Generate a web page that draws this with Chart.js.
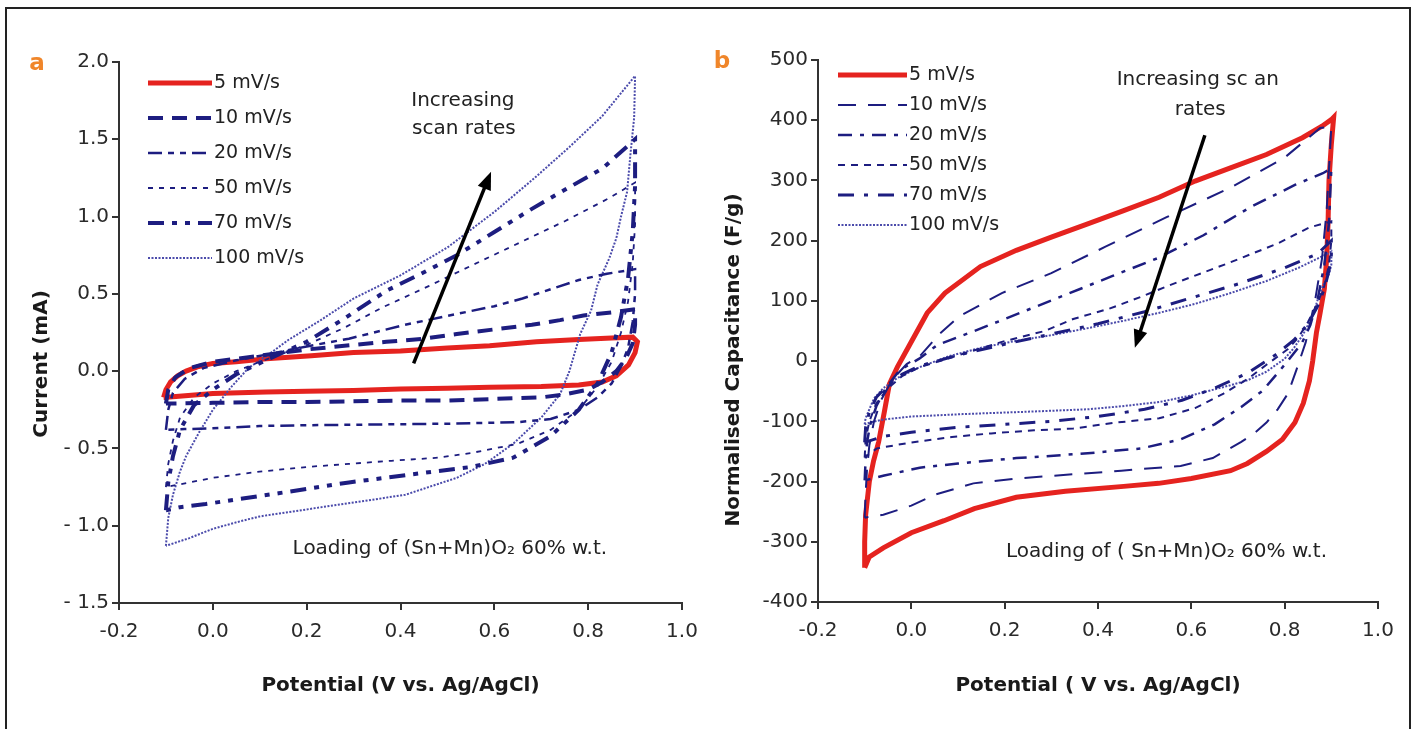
<!DOCTYPE html>
<html>
<head>
<meta charset="utf-8">
<script src="https://cdn.jsdelivr.net/npm/chart.js@4.4.0/dist/chart.umd.min.js"></script>
<style>
  body { margin: 0; background: #fff; width: 1416px; height: 729px; overflow: hidden; position: relative; }
  #frame { position: absolute; left: 5px; top: 7px; width: 1402px; height: 760px; border: 2px solid #222; }
  .panel { position: absolute; top: 0; width: 708px; height: 729px; }
  #pa { left: 0; }
  #pb { left: 708px; }
</style>
</head>
<body>
<div id="frame"></div>
<div class="panel" id="pa"><canvas id="cva"></canvas></div>
<div class="panel" id="pb"><canvas id="cvb"></canvas></div>
<script>
const rates = ['5 mV/s', '10 mV/s', '20 mV/s', '50 mV/s', '70 mV/s', '100 mV/s']

// (a) current in mA vs potential in V, one closed loop per scan rate
const curA5 = [[-0.105,-0.17],[-0.1,-0.12],[-0.09,-0.07],[-0.075,-0.03],[-0.057,0.0],[-0.03,0.03],[0,0.05],[0.05,0.06],[0.114,0.08],[0.21,0.1],[0.3,0.12],[0.4,0.13],[0.5,0.15],[0.59,0.165],[0.69,0.19],[0.78,0.205],[0.85,0.215],[0.895,0.22],[0.905,0.19],[0.9,0.12],[0.886,0.04],[0.86,-0.03],[0.83,-0.07],[0.78,-0.09],[0.7,-0.1],[0.59,-0.105],[0.5,-0.11],[0.4,-0.115],[0.3,-0.125],[0.2,-0.13],[0.114,-0.135],[0,-0.145],[-0.105,-0.17]]
const curA10 = [[-0.1,-0.21],[-0.095,-0.12],[-0.08,-0.04],[-0.05,0.02],[0,0.06],[0.1,0.1],[0.2,0.14],[0.3,0.17],[0.37,0.19],[0.45,0.21],[0.52,0.24],[0.6,0.27],[0.68,0.3],[0.74,0.33],[0.79,0.36],[0.85,0.38],[0.9,0.4],[0.9,0.3],[0.895,0.18],[0.88,0.08],[0.86,0.0],[0.83,-0.07],[0.8,-0.12],[0.75,-0.15],[0.7,-0.17],[0.6,-0.18],[0.5,-0.19],[0.4,-0.19],[0.3,-0.195],[0.2,-0.2],[0.1,-0.2],[0,-0.205],[-0.1,-0.21]]
const curA20 = [[-0.1,-0.38],[-0.095,-0.25],[-0.085,-0.14],[-0.06,-0.05],[-0.02,0.02],[0.05,0.07],[0.12,0.11],[0.2,0.16],[0.29,0.21],[0.41,0.3],[0.52,0.37],[0.6,0.42],[0.66,0.47],[0.72,0.53],[0.78,0.59],[0.84,0.63],[0.9,0.66],[0.9,0.5],[0.895,0.32],[0.885,0.15],[0.87,0.03],[0.85,-0.08],[0.82,-0.17],[0.78,-0.25],[0.72,-0.31],[0.65,-0.33],[0.5,-0.34],[0.35,-0.345],[0.2,-0.35],[0.1,-0.355],[0,-0.37],[-0.06,-0.375],[-0.1,-0.38]]
const curA50 = [[-0.1,-0.75],[-0.095,-0.6],[-0.085,-0.45],[-0.07,-0.3],[-0.04,-0.17],[0,-0.08],[0.05,0.0],[0.1,0.06],[0.2,0.17],[0.28,0.28],[0.36,0.41],[0.46,0.55],[0.57,0.71],[0.66,0.84],[0.75,0.97],[0.845,1.12],[0.9,1.22],[0.9,0.95],[0.895,0.7],[0.885,0.45],[0.87,0.25],[0.85,0.06],[0.82,-0.1],[0.78,-0.25],[0.72,-0.38],[0.65,-0.47],[0.55,-0.53],[0.48,-0.56],[0.38,-0.58],[0.29,-0.6],[0.2,-0.62],[0.1,-0.65],[0,-0.69],[-0.05,-0.72],[-0.1,-0.75]]
const curA70 = [[-0.1,-0.9],[-0.095,-0.72],[-0.085,-0.55],[-0.07,-0.38],[-0.04,-0.22],[0,-0.12],[0.05,-0.02],[0.12,0.08],[0.2,0.19],[0.28,0.34],[0.37,0.52],[0.45,0.64],[0.52,0.75],[0.6,0.9],[0.68,1.05],[0.76,1.19],[0.83,1.31],[0.9,1.5],[0.9,1.2],[0.895,0.9],[0.885,0.6],[0.87,0.35],[0.85,0.12],[0.82,-0.08],[0.78,-0.25],[0.72,-0.42],[0.64,-0.56],[0.55,-0.62],[0.445,-0.66],[0.29,-0.72],[0.14,-0.79],[0.05,-0.83],[-0.015,-0.86],[-0.07,-0.88],[-0.1,-0.9]]
const curA100 = [[-0.1,-1.13],[-0.095,-0.95],[-0.085,-0.8],[-0.07,-0.65],[-0.057,-0.55],[-0.03,-0.4],[0,-0.25],[0.04,-0.1],[0.076,0.02],[0.12,0.11],[0.16,0.2],[0.23,0.33],[0.3,0.47],[0.4,0.62],[0.5,0.8],[0.6,1.03],[0.686,1.25],[0.76,1.45],[0.83,1.65],[0.9,1.91],[0.898,1.64],[0.89,1.4],[0.883,1.16],[0.87,1.0],[0.86,0.86],[0.845,0.73],[0.82,0.56],[0.806,0.39],[0.783,0.24],[0.76,0.0],[0.74,-0.15],[0.7,-0.3],[0.64,-0.47],[0.58,-0.6],[0.52,-0.69],[0.41,-0.8],[0.3,-0.85],[0.21,-0.89],[0.1,-0.94],[0.06,-0.97],[0,-1.02],[-0.05,-1.08],[-0.1,-1.13]]

// (b) normalised capacitance in F/g vs potential in V
const capB5 = [[-0.1,-343],[-0.1,-300],[-0.098,-256],[-0.09,-200],[-0.081,-166],[-0.07,-134],[-0.058,-85],[-0.047,-38],[-0.03,-10],[-0.005,25],[0.034,80],[0.072,113],[0.148,157],[0.225,184],[0.3,206],[0.378,228],[0.455,250],[0.531,272],[0.608,299],[0.684,321],[0.761,343],[0.838,371],[0.88,390],[0.9,401],[0.905,405],[0.9,360],[0.895,300],[0.893,230],[0.89,170],[0.885,120],[0.876,80],[0.868,47],[0.86,0],[0.853,-33],[0.84,-70],[0.822,-102],[0.795,-130],[0.761,-150],[0.72,-170],[0.684,-182],[0.6,-195],[0.53,-203],[0.455,-208],[0.33,-216],[0.225,-226],[0.135,-245],[0.07,-265],[0,-285],[-0.06,-310],[-0.09,-325],[-0.1,-343]]
const capB10 = [[-0.1,-260],[-0.098,-220],[-0.095,-180],[-0.09,-140],[-0.08,-100],[-0.065,-65],[-0.04,-30],[-0.01,-5],[0.018,8],[0.06,45],[0.102,74],[0.194,113],[0.3,146],[0.416,190],[0.547,239],[0.684,288],[0.8,338],[0.876,387],[0.9,390],[0.895,320],[0.89,250],[0.88,170],[0.865,100],[0.845,31],[0.825,-15],[0.807,-54],[0.785,-80],[0.761,-102],[0.735,-120],[0.707,-134],[0.646,-161],[0.577,-174],[0.45,-182],[0.363,-187],[0.225,-195],[0.133,-203],[0.05,-222],[0,-240],[-0.06,-255],[-0.1,-260]]
const capB20 = [[-0.1,-198],[-0.098,-165],[-0.095,-135],[-0.088,-105],[-0.075,-75],[-0.055,-45],[-0.025,-15],[0.017,4],[0.056,27],[0.135,50],[0.233,80],[0.33,110],[0.43,141],[0.528,171],[0.626,209],[0.725,255],[0.823,293],[0.882,312],[0.9,320],[0.895,230],[0.885,160],[0.87,100],[0.855,60],[0.837,30],[0.8,-6],[0.753,-49],[0.707,-76],[0.65,-105],[0.577,-130],[0.493,-145],[0.378,-153],[0.286,-158],[0.225,-161],[0.1,-170],[0.018,-177],[-0.058,-190],[-0.1,-198]]
const capB50 = [[-0.1,-160],[-0.098,-130],[-0.09,-100],[-0.075,-70],[-0.05,-45],[-0.02,-25],[0.018,-10],[0.102,10],[0.194,32],[0.286,50],[0.347,70],[0.424,87],[0.493,107],[0.547,124],[0.608,142],[0.677,162],[0.784,195],[0.853,222],[0.9,232],[0.9,200],[0.895,160],[0.885,125],[0.87,95],[0.85,65],[0.83,40],[0.807,20],[0.761,-6],[0.72,-30],[0.669,-54],[0.608,-78],[0.531,-95],[0.439,-102],[0.347,-112],[0.263,-115],[0.171,-120],[0.087,-126],[0,-135],[-0.074,-145],[-0.1,-160]]
const capB70 = [[-0.1,-135],[-0.098,-110],[-0.09,-85],[-0.075,-60],[-0.05,-40],[-0.02,-22],[0.018,-8],[0.1,10],[0.2,28],[0.3,45],[0.4,62],[0.5,82],[0.6,105],[0.7,128],[0.8,155],[0.87,178],[0.9,200],[0.9,175],[0.895,150],[0.885,120],[0.87,90],[0.85,62],[0.82,35],[0.78,10],[0.72,-20],[0.65,-45],[0.58,-65],[0.5,-80],[0.4,-92],[0.3,-100],[0.2,-105],[0.1,-110],[0,-118],[-0.06,-125],[-0.1,-135]]
const capB100 = [[-0.1,-105],[-0.098,-95],[-0.09,-80],[-0.08,-62],[-0.06,-45],[-0.03,-28],[0.018,-10],[0.08,8],[0.148,22],[0.22,33],[0.3,43],[0.38,55],[0.455,67],[0.53,80],[0.608,95],[0.68,112],[0.761,133],[0.83,155],[0.891,178],[0.9,182],[0.9,160],[0.895,145],[0.885,130],[0.872,105],[0.86,75],[0.84,45],[0.82,22],[0.8,4],[0.76,-18],[0.72,-32],[0.684,-40],[0.6,-57],[0.531,-68],[0.45,-75],[0.378,-80],[0.25,-84],[0.11,-88],[0,-92],[-0.06,-97],[-0.089,-102],[-0.1,-105]]

const RED = '#e5231f'
const NAVY = '#1d1d80'
const LIGHT = '#4b4bab'

// line look per scan rate, panel a then panel b
const styleA = [
  { color: RED, width: 5, dash: [] },
  { color: NAVY, width: 4, dash: [15, 9] },
  { color: NAVY, width: 2.5, dash: [14, 6, 6, 6, 6, 6] },
  { color: NAVY, width: 1.8, dash: [5, 6] },
  { color: NAVY, width: 4, dash: [16, 8, 5, 8, 5, 8] },
  { color: LIGHT, width: 2, dash: [2, 1.5] }
]
const styleB = [
  { color: RED, width: 5, dash: [] },
  { color: NAVY, width: 2, dash: [18, 12] },
  { color: NAVY, width: 2.5, dash: [14, 8, 4, 8] },
  { color: NAVY, width: 2, dash: [7, 6] },
  { color: NAVY, width: 3, dash: [16, 10, 4, 10] },
  { color: LIGHT, width: 2, dash: [2, 1.5] }
]

const toXY = pts => pts.map(p => ({ x: p[0], y: p[1] }))

// rounding noise near zero would print "-0.0"
const fmt1 = v => (Math.abs(v) < 1e-9 ? 0 : v).toFixed(1)

const buildSets = (series, styles) => series.map((s, i) => ({
  label: rates[i],
  data: toXY(s),
  showLine: true,
  borderColor: styles[i].color,
  borderWidth: styles[i].width,
  borderDash: styles[i].dash,
  pointRadius: 0,
  tension: 0,
  fill: false,
  order: i === 0 ? 10 : i
}))

// legend, arrow, notes and the rotated y title are painted here
const decor = {
  id: 'decor',
  afterDraw(chart, args, o) {
    const { ctx, scales: { x, y } } = chart
    ctx.save()
    ctx.textBaseline = 'middle'

    chart.data.datasets.forEach((ds, i) => {
      const ly = o.legend.top + i * o.legend.gap
      ctx.beginPath()
      ctx.setLineDash(ds.borderDash)
      ctx.lineWidth = ds.borderWidth
      ctx.strokeStyle = ds.borderColor
      ctx.moveTo(o.legend.x0, ly)
      ctx.lineTo(o.legend.x1, ly)
      ctx.stroke()
      ctx.setLineDash([])
      ctx.fillStyle = '#222'
      ctx.font = '19px "DejaVu Sans"'
      ctx.textAlign = 'left'
      ctx.fillText(ds.label, o.legend.x1 + 2, ly)
    })

    // arrow
    const x1 = x.getPixelForValue(o.arrow[0][0]), y1 = y.getPixelForValue(o.arrow[0][1])
    const x2 = x.getPixelForValue(o.arrow[1][0]), y2 = y.getPixelForValue(o.arrow[1][1])
    const ang = Math.atan2(y2 - y1, x2 - x1)
    ctx.strokeStyle = '#000'
    ctx.fillStyle = '#000'
    ctx.lineWidth = 3.5
    ctx.beginPath()
    ctx.moveTo(x1, y1)
    ctx.lineTo(x2 - 12 * Math.cos(ang), y2 - 12 * Math.sin(ang))
    ctx.stroke()
    ctx.beginPath()
    ctx.moveTo(x2, y2)
    ctx.lineTo(x2 - 18 * Math.cos(ang) + 7 * Math.sin(ang), y2 - 18 * Math.sin(ang) - 7 * Math.cos(ang))
    ctx.lineTo(x2 - 18 * Math.cos(ang) - 7 * Math.sin(ang), y2 - 18 * Math.sin(ang) + 7 * Math.cos(ang))
    ctx.closePath()
    ctx.fill()

    ctx.fillStyle = '#222'
    ctx.font = '20px "DejaVu Sans"'
    ctx.textAlign = 'center'
    o.notes.forEach(n => ctx.fillText(n.text, x.getPixelForValue(n.at[0]), y.getPixelForValue(n.at[1])))

    ctx.textAlign = 'left'
    ctx.fillText(o.loading.text, x.getPixelForValue(o.loading.at[0]), y.getPixelForValue(o.loading.at[1]))

    ctx.fillStyle = '#f0862a'
    ctx.font = 'bold 23px "DejaVu Sans"'
    ctx.textAlign = 'center'
    ctx.fillText(o.letter.text, o.letter.x, o.letter.y)

    ctx.fillStyle = '#1a1a1a'
    ctx.font = 'bold 20px "DejaVu Sans"'
    ctx.translate(o.ytitle.x, o.ytitle.y)
    ctx.rotate(-Math.PI / 2)
    ctx.fillText(o.ytitle.text, 0, 0)
    ctx.restore()
  }
}

const makeChart = (el, sets, cfg) => new Chart(document.getElementById(el), {
  type: 'scatter',
  data: { datasets: sets },
  plugins: [decor],
  options: {
    responsive: true,
    maintainAspectRatio: false,
    animation: false,
    events: [],
    layout: { padding: { top: cfg.top, right: cfg.right, left: 0, bottom: 0 } },
    plugins: { legend: { display: false }, tooltip: { enabled: false }, decor: cfg.decor },
    scales: {
      x: {
        type: 'linear', min: -0.2, max: 1.0,
        afterFit: s => { s.height = cfg.xh },
        border: { display: true, color: '#333', width: 2 },
        grid: { drawOnChartArea: false, tickLength: 7, color: '#333', lineWidth: 2 },
        ticks: { stepSize: 0.2, padding: 10, color: '#2a2a2a', font: { size: 20 }, callback: fmt1 },
        title: { display: true, text: cfg.xtitle, color: '#1a1a1a', font: { size: 20, weight: 'bold' }, padding: { top: 0, bottom: 31 } }
      },
      y: {
        type: 'linear', min: cfg.ymin, max: cfg.ymax,
        afterFit: s => { s.width = cfg.yw },
        border: { display: true, color: '#333', width: 2 },
        grid: { drawOnChartArea: false, tickLength: 7, color: '#333', lineWidth: 2 },
        ticks: { stepSize: cfg.ystep, padding: 3, color: '#2a2a2a', font: { size: 20 }, callback: cfg.yfmt }
      }
    }
  }
})

window.addEventListener('load', () => {
  Chart.defaults.font.family = '"DejaVu Sans"'

  makeChart('cva', buildSets([curA5, curA10, curA20, curA50, curA70, curA100], styleA), {
    top: 62, right: 26, xh: 126, yw: 119,
    ymin: -1.5, ymax: 2.0, ystep: 0.5,
    yfmt: v => v < -1e-9 ? '- ' + fmt1(Math.abs(v)) : fmt1(v),
    xtitle: 'Potential (V vs. Ag/AgCl)',
    decor: {
      legend: { top: 83, gap: 35, x0: 148, x1: 212 },
      arrow: [[0.428, 0.05], [0.593, 1.29]],
      notes: [{ text: 'Increasing', at: [0.533, 1.75] }, { text: 'scan rates', at: [0.535, 1.565] }],
      loading: { text: 'Loading of (Sn+Mn)O₂ 60% w.t.', at: [0.17, -1.15] },
      letter: { text: 'a', x: 37, y: 64 },
      ytitle: { text: 'Current (mA)', x: 42, y: 364 }
    }
  })

  makeChart('cvb', buildSets([capB5, capB10, capB20, capB50, capB70, capB100], styleB), {
    top: 60, right: 38, xh: 127, yw: 110,
    ymin: -400, ymax: 500, ystep: 100,
    yfmt: v => String(Math.round(v)),
    xtitle: 'Potential ( V vs. Ag/AgCl)',
    decor: {
      legend: { top: 75, gap: 30, x0: 130, x1: 199 },
      arrow: [[0.629, 375], [0.479, 22]],
      notes: [{ text: 'Increasing sc an', at: [0.614, 467] }, { text: 'rates', at: [0.619, 417] }],
      loading: { text: 'Loading of ( Sn+Mn)O₂ 60% w.t.', at: [0.203, -316] },
      letter: { text: 'b', x: 14, y: 62 },
      ytitle: { text: 'Normalised Capacitance (F/g)', x: 26, y: 360 }
    }
  })
})
</script>
</body>
</html>
